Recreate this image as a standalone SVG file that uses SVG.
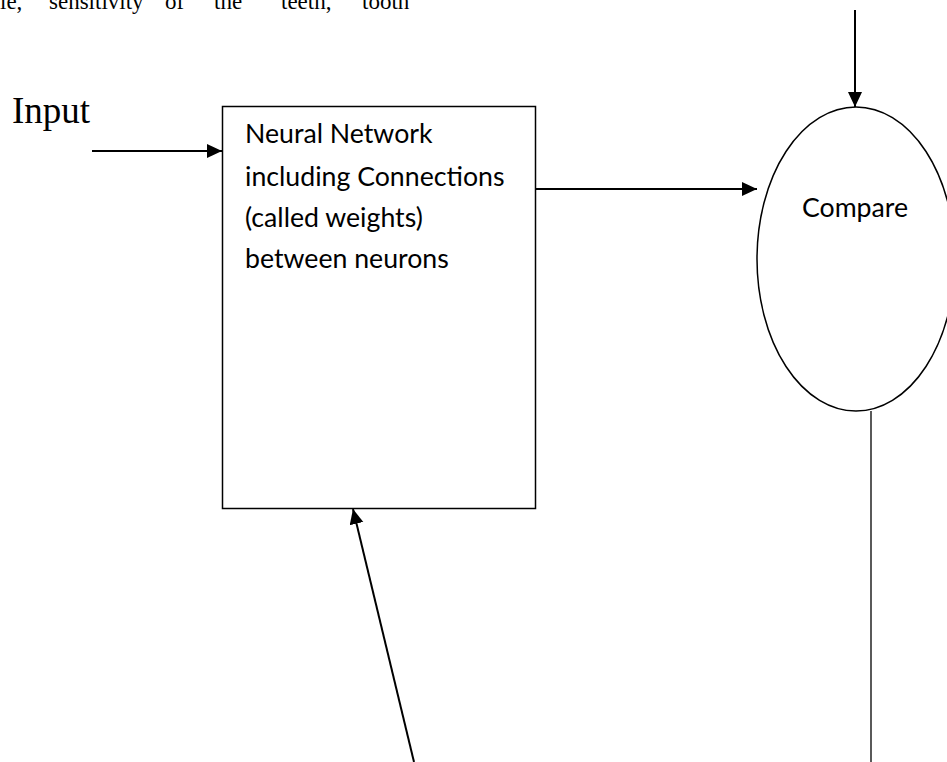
<svg xmlns="http://www.w3.org/2000/svg" width="947" height="762" viewBox="0 0 947 762">
<style>
.serif{font-family:"Liberation Serif","Times New Roman",serif;fill:#000}
.lbl{font-family:Lato,"Open Sans",sans-serif;font-size:26.7px;fill:#000}
.shape{fill:#fff;stroke:#000;stroke-width:1.5}
.conn{fill:none;stroke:#000;stroke-width:2}
</style>
<defs>
<marker id="ah" markerUnits="userSpaceOnUse" markerWidth="16" markerHeight="16" refX="15" refY="7" orient="auto">
<path d="M0,0 L15,7 L0,14 Z" fill="#000"/>
</marker>
</defs>
<rect width="947" height="762" fill="#fff"/>
<text class="serif" font-size="23" y="9"><tspan x="0">le,</tspan><tspan x="49">sensitivity</tspan><tspan x="165">of</tspan><tspan x="214">the</tspan><tspan x="281">teeth,</tspan><tspan x="362">tooth</tspan></text>
<text class="serif" font-size="37" x="12" y="123">Input</text>
<g id="network">
<rect class="shape" x="222.5" y="106.5" width="313" height="402"/>
<text class="lbl" x="245" y="143">Neural Network</text>
<text class="lbl" x="245" y="186">including Connections</text>
<text class="lbl" x="245" y="227">(called weights)</text>
<text class="lbl" x="245" y="268">between neurons</text>
</g>
<g id="compare">
<ellipse class="shape" cx="856" cy="259" rx="99" ry="152"/>
<text class="lbl" x="855" y="217" text-anchor="middle">Compare</text>
</g>
<g id="connectors">
<line class="conn" x1="92" y1="151" x2="222" y2="151" marker-end="url(#ah)"/>
<line class="conn" x1="535" y1="189" x2="757" y2="189" marker-end="url(#ah)"/>
<line class="conn" x1="855" y1="10" x2="855" y2="107" marker-end="url(#ah)"/>
<line class="conn" x1="414" y1="762" x2="353" y2="509" marker-end="url(#ah)"/>
<line fill="none" stroke="#000" stroke-width="1.3" x1="871" y1="411" x2="871" y2="762"/>
</g>
</svg>
